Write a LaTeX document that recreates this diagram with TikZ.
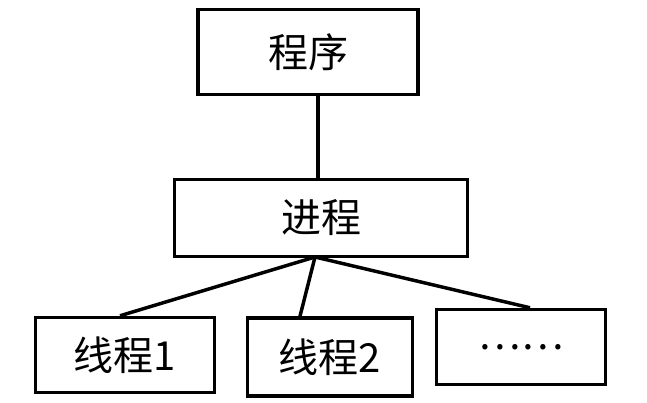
\documentclass[tikz,border=0pt]{standalone}
\usepackage{fontspec}
\newfontfamily\cjk{Noto Sans CJK SC}
\begin{document}
\begin{tikzpicture}[x=0.75pt,y=-0.75pt,
  box/.style={draw,line width=2.6pt,font=\cjk\fontsize{30}{34}\selectfont},
  link/.style={line width=2.6pt}]
\useasboundingbox (0,0) rectangle (647,403);
\node[box,minimum width=220*0.75pt,minimum height=85*0.75pt] (p) at (308,52) {程序};
\node[box,minimum width=293*0.75pt,minimum height=77*0.75pt] (j) at (321,218) {进程};
\node[box,minimum width=179*0.75pt,minimum height=75*0.75pt] (t1) at (125,355) {线程1};
\node[box,minimum width=165*0.75pt,minimum height=78*0.75pt] (t2) at (330,357) {线程2};
\node[box,minimum width=169*0.75pt,minimum height=75*0.75pt] (t3) at (521,347) {……};
\draw[link] (p.south -| 318,0) -- (j.north -| 318,0);
\coordinate (c) at (315,257);
\draw[link] (c) -- (t1.north -| 120,0);
\draw[link] (c) -- (t2.north -| 300,0);
\draw[link] (c) -- (t3.north -| 530,0);
\end{tikzpicture}
\end{document}
